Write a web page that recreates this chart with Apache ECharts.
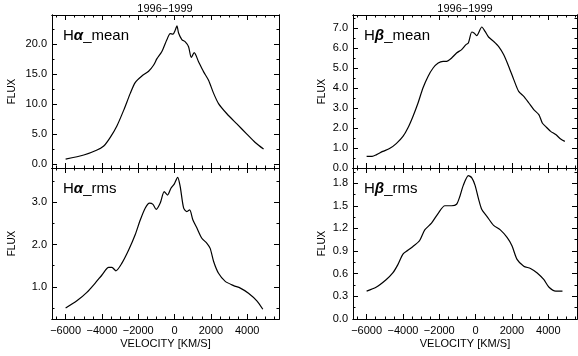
<!DOCTYPE html>
<html>
<head>
<meta charset="utf-8">
<script src="https://cdn.jsdelivr.net/npm/echarts@6/dist/echarts.min.js"></script>
<style>
  html, body { margin: 0; padding: 0; background: #fff; }
  #chart { width: 578px; height: 356px; }
</style>
</head>
<body>
<div id="chart"></div>
<script>
// velocity (km/s) / flux samples
const haMeanVel  = [-6000, -5000, -4300, -3900, -3550, -3170, -2800, -2440, -2170, -1800, -1430, -1160, -970, -700, -420, -240, -90, 40, 130, 220, 400, 590, 770, 920, 1080, 1320, 1600, 1870, 2150, 2420, 2880, 3430, 3980, 4440, 4900];
const haMeanFlux = [0.8, 1.5, 2.3, 3.0, 4.4, 6.4, 9.0, 11.8, 13.6, 14.7, 15.5, 16.5, 17.6, 18.8, 20.8, 21.8, 21.7, 22.4, 23.1, 21.9, 20.8, 20.4, 19.6, 17.8, 18.6, 17.1, 15.4, 14.0, 11.8, 10.1, 8.4, 6.7, 5.0, 3.6, 2.5];

const haRmsVel  = [-6000, -5380, -4830, -4370, -4000, -3630, -3450, -3230, -2900, -2530, -2170, -1890, -1620, -1380, -1190, -1010, -790, -570, -390, -200, -20, 170, 310, 500, 680, 830, 1010, 1230, 1500, 1780, 1960, 2150, 2420, 2790, 3250, 3620, 4070, 4530, 4860];
const haRmsFlux = [0.50, 0.67, 0.87, 1.09, 1.28, 1.46, 1.46, 1.38, 1.56, 1.87, 2.23, 2.58, 2.86, 2.98, 2.95, 2.83, 2.98, 3.25, 3.17, 3.33, 3.43, 3.59, 3.37, 2.86, 2.78, 2.82, 2.58, 2.39, 2.15, 2.03, 1.91, 1.60, 1.32, 1.13, 1.03, 0.97, 0.85, 0.67, 0.47];

const hbMeanVel  = [-6000, -5700, -5450, -5110, -4740, -4370, -4000, -3730, -3450, -3170, -2900, -2620, -2340, -2060, -1790, -1600, -1320, -1050, -770, -530, -400, -210, -90, 60, 340, 520, 710, 990, 1260, 1540, 1820, 2100, 2370, 2650, 2930, 3200, 3480, 3670, 3850, 4130, 4410, 4680, 4910];
const hbMeanFlux = [0.58, 0.58, 0.67, 0.83, 0.97, 1.22, 1.58, 2.00, 2.58, 3.25, 4.00, 4.58, 5.00, 5.25, 5.33, 5.33, 5.50, 5.75, 5.92, 6.17, 6.25, 6.80, 6.75, 6.62, 7.05, 6.83, 6.55, 6.33, 6.08, 5.67, 5.08, 4.42, 3.83, 3.58, 3.25, 2.92, 2.67, 2.25, 2.08, 1.83, 1.67, 1.45, 1.33];

const hbRmsVel  = [-6000, -5480, -4930, -4560, -4280, -4000, -3730, -3450, -3080, -2800, -2430, -2060, -1690, -1320, -1050, -860, -680, -400, -210, -30, 160, 340, 620, 990, 1360, 1730, 2000, 2280, 2650, 3020, 3390, 3760, 4040, 4410, 4780];
const hbRmsFlux = [0.37, 0.42, 0.52, 0.61, 0.72, 0.86, 0.91, 0.96, 1.04, 1.18, 1.27, 1.40, 1.50, 1.50, 1.52, 1.63, 1.77, 1.90, 1.87, 1.77, 1.59, 1.45, 1.36, 1.24, 1.18, 1.08, 0.97, 0.79, 0.70, 0.67, 0.61, 0.52, 0.42, 0.37, 0.37];

// tick values
const velMajor = [-6000, -4000, -2000, 0, 2000, 4000];
const velMinor = [-6500, -5500, -5000, -4500, -3500, -3000, -2500, -1500, -1000, -500, 500, 1000, 1500, 2500, 3000, 3500, 4500, 5000, 5500];
const haMeanMajor = [0, 5, 10, 15, 20];
const haMeanMinor = [2.5, 7.5, 12.5, 17.5, 22.5];
const haRmsMajor = [1, 2, 3];
const haRmsMinor = [0.5, 1.5, 2.5, 3.5];
const hbMeanMajor = [0, 1, 2, 3, 4, 5, 6, 7];
const hbMeanMinor = [0.5, 1.5, 2.5, 3.5, 4.5, 5.5, 6.5, 7.5];
const hbRmsMajor = [0, 0.3, 0.6, 0.9, 1.2, 1.5, 1.8];
const hbRmsMinor = [0.15, 0.45, 0.75, 1.05, 1.35, 1.65, 1.95];

const FONT = 'Liberation Sans, Arial, sans-serif';

const panels = [
  {vel: haMeanVel, flux: haMeanFlux, xr: [-6750, 5750], yr: [-0.67, 24.9], yMaj: haMeanMajor, yMin: haMeanMinor,
   left: 52, width: 227, top: 15, height: 153, xLabels: false, yGap: 35, tag: 'H{g|α}_mean'},
  {vel: haRmsVel, flux: haRmsFlux, xr: [-6750, 5750], yr: [0.24, 3.81], yMaj: haRmsMajor, yMin: haRmsMinor,
   left: 52, width: 227, top: 168, height: 151, xLabels: true, yGap: 35, tag: 'H{g|α}_rms'},
  {vel: hbMeanVel, flux: hbMeanFlux, xr: [-6750, 5580], yr: [0, 7.65], yMaj: hbMeanMajor, yMin: hbMeanMinor,
   left: 353, width: 224, top: 15, height: 153, xLabels: false, yGap: 26, tag: 'H{g|β}_mean'},
  {vel: hbRmsVel, flux: hbRmsFlux, xr: [-6750, 5580], yr: [0, 2.0], yMaj: hbRmsMajor, yMin: hbRmsMinor,
   left: 353, width: 224, top: 168, height: 151, xLabels: true, yGap: 26, tag: 'H{g|β}_rms'}
];

function velLabel(v) {
  return v < 0 ? '\u2212' + (-v) : String(v);
}

function tickAxis(gridIndex, position, range, ticks, len, extra) {
  return Object.assign({
    type: 'value',
    gridIndex: gridIndex,
    position: position,
    min: range[0],
    max: range[1],
    splitLine: {show: false},
    axisLine: {show: true, onZero: false, lineStyle: {color: '#000', width: 1}},
    axisTick: {show: true, inside: true, length: len, customValues: ticks, lineStyle: {color: '#000', width: 1}},
    axisLabel: {show: false}
  }, extra || {});
}

const grids = [], xAxes = [], yAxes = [], series = [], graphics = [];

panels.forEach((p, gi) => {
  grids.push({left: p.left, top: p.top, width: p.width, height: p.height, containLabel: false});

  const xi = xAxes.length;
  xAxes.push(tickAxis(gi, 'bottom', p.xr, velMajor, 5, p.xLabels ? {
    axisLabel: {show: true, customValues: velMajor, formatter: velLabel, color: '#000', fontSize: 11, fontFamily: FONT, margin: 6},
    name: 'VELOCITY [KM/S]', nameLocation: 'middle', nameGap: 19,
    nameTextStyle: {color: '#000', fontSize: 11, fontFamily: FONT}
  } : null));
  xAxes.push(tickAxis(gi, 'bottom', p.xr, velMinor, 2.5));
  xAxes.push(tickAxis(gi, 'top', p.xr, velMajor, 5));
  xAxes.push(tickAxis(gi, 'top', p.xr, velMinor, 2.5));

  const yi = yAxes.length;
  yAxes.push(tickAxis(gi, 'left', p.yr, p.yMaj, 5, {
    axisLabel: {show: true, customValues: p.yMaj, formatter: v => v.toFixed(1), color: '#000', fontSize: 11, fontFamily: FONT, margin: 5},
    name: 'FLUX', nameLocation: 'middle', nameGap: p.yGap, nameRotate: 90,
    nameTextStyle: {color: '#000', fontSize: 10, fontFamily: FONT}
  }));
  yAxes.push(tickAxis(gi, 'left', p.yr, p.yMin, 2.5));
  yAxes.push(tickAxis(gi, 'right', p.yr, p.yMaj, 5));
  yAxes.push(tickAxis(gi, 'right', p.yr, p.yMin, 2.5));

  series.push({
    type: 'line',
    xAxisIndex: xi,
    yAxisIndex: yi,
    data: p.vel.map((v, i) => [v, p.flux[i]]),
    showSymbol: false,
    smooth: 0.25,
    silent: true,
    lineStyle: {color: '#000', width: 1.2}
  });

  graphics.push({
    type: 'text',
    left: p.left + 11,
    top: p.top + 13,
    style: {
      text: p.tag,
      fill: '#000',
      font: '15px ' + FONT,
      rich: {g: {fontStyle: 'italic', fontWeight: 'bold', fontSize: 15, fontFamily: FONT}}
    }
  });
});

// column titles
[[165, '1996\u22121999'], [465, '1996\u22121999']].forEach(t => {
  graphics.push({
    type: 'text',
    x: t[0],
    y: 3,
    style: {text: t[1], fill: '#000', font: '11px ' + FONT, textAlign: 'center', textVerticalAlign: 'top'}
  });
});

const chart = echarts.init(document.getElementById('chart'), null, {renderer: 'canvas'});
chart.setOption({
  animation: false,
  backgroundColor: '#fff',
  grid: grids,
  xAxis: xAxes,
  yAxis: yAxes,
  series: series,
  graphic: graphics
});
</script>
</body>
</html>
